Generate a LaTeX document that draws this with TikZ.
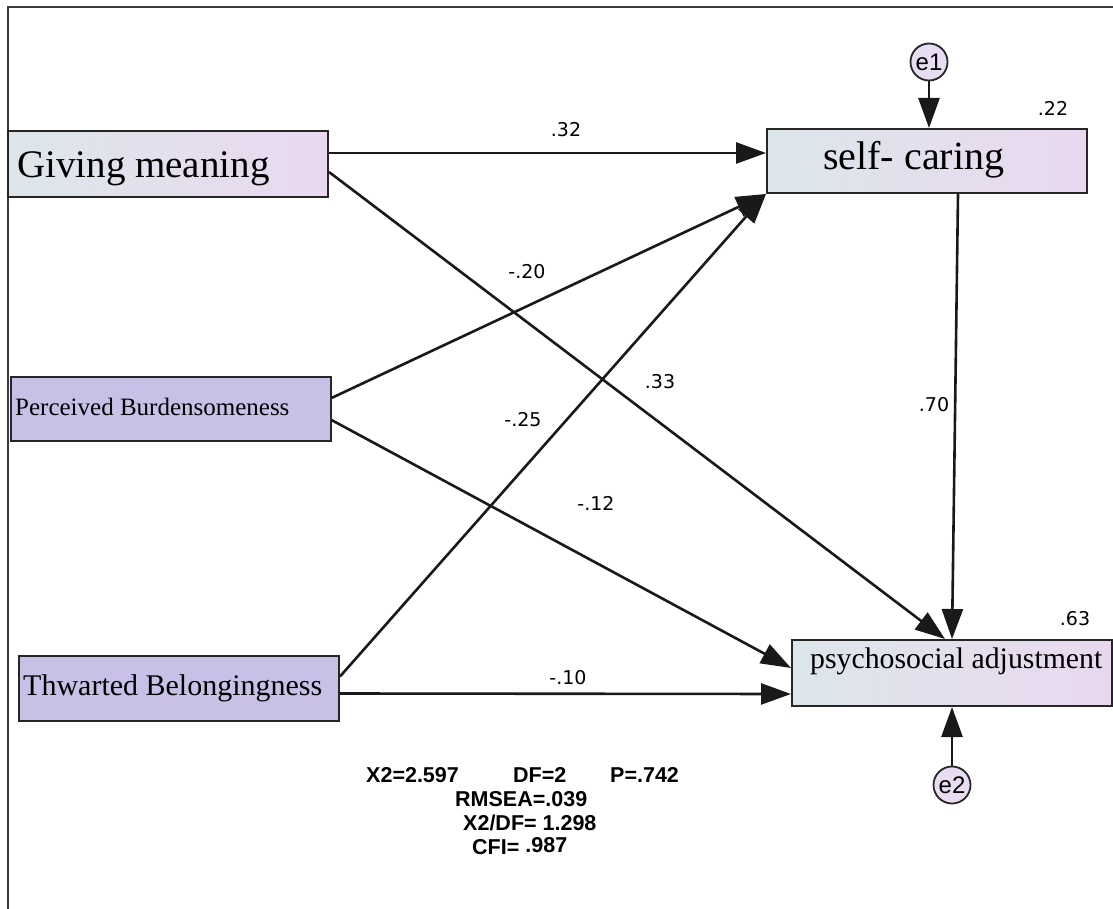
\documentclass[tikz,border=0pt]{standalone}
\usepackage{fontspec}
\setmainfont{Liberation Serif}
\setsansfont{Liberation Sans}
\newfontfamily\lblfam{DejaVu Sans}
\usetikzlibrary{arrows.meta}
\definecolor{boxl}{RGB}{220,230,234}
\definecolor{boxr}{RGB}{234,216,240}
\definecolor{boxp}{RGB}{200,192,230}
\definecolor{errf}{RGB}{232,220,242}
\definecolor{framec}{RGB}{60,60,60}
\tikzset{
  boxg/.style={rectangle, draw=black!85, line width=2pt, left color=boxl, right color=boxr, minimum width=320pt, inner sep=0pt},
  boxv/.style={rectangle, draw=black!85, line width=2pt, fill=boxp, minimum width=320pt, inner sep=0pt},
  errc/.style={circle, draw=black!85, line width=1.8pt, fill=errf, minimum size=37pt, inner sep=0pt, font=\sffamily\fontsize{24}{24}\selectfont},
  conn/.style={line width=2.6pt, draw=black!90, -{Triangle[length=30pt,width=21pt]}},
  coef/.style={font=\lblfam\fontsize{19}{19}\selectfont, inner sep=0pt},
  boxtext/.style={anchor=base west, inner sep=0pt, font=\rmfamily},
  stat/.style={anchor=base west, inner sep=0pt, font=\sffamily\bfseries\fontsize{21.5}{21.5}\selectfont}
}
\begin{document}
\begin{tikzpicture}[x=1pt,y=-1pt]
\useasboundingbox (0,0) rectangle (1113,909);
\fill[white] (0,0) rectangle (1113,909);
\draw[line width=2pt, framec] (1113,7) -- (8,7) -- (8,909);

% boxes
\node[boxg, minimum height=66pt] (gm) at (168,164) {};
\node[boxtext, font=\rmfamily\fontsize{39}{39}\selectfont] (gmt) at (17,178) {Giving meaning};
\node[boxg, minimum height=64pt] (sc) at (927,161) {};
\node[boxtext, font=\rmfamily\fontsize{40}{40}\selectfont] (sct) at (823,170) {self- caring};
\node[boxv, minimum height=64pt] (pb) at (170.5,409) {};
\node[boxtext, font=\rmfamily\fontsize{25}{25}\selectfont] (pbt) at (15,415) {Perceived Burdensomeness};
\node[boxv, minimum height=65pt] (tb) at (179,688.5) {};
\node[boxtext, font=\rmfamily\fontsize{30}{30}\selectfont] (tbt) at (23,695) {Thwarted Belongingness};
\node[boxg, minimum height=66pt] (pa) at (952,673) {};
\node[boxtext, font=\rmfamily\fontsize{29.8}{29.8}\selectfont] (pat) at (810,668) {psychosocial adjustment};

% error terms
\node[errc] (e1) at (929,62) {e1};
\node[errc] (e2) at (952,785) {e2};

% connectors
\draw[conn] ([yshift=11pt]gm.east) -- ([yshift=8pt]sc.west);
\draw[conn] ([yshift=-8pt]gm.east) -- ([xshift=-7pt]pa.north);
\draw[conn] ([yshift=11pt]pb.east) -- (sc.south west);
\draw[conn] ([yshift=-11pt]pb.east) -- ([yshift=5pt]pa.west);
\draw[conn] ([yshift=12pt]tb.east) -- (sc.south west);
\draw[conn] ([yshift=-5pt]tb.east) -- ([yshift=-21pt]pa.west);
\draw[conn] ([xshift=31pt]sc.south) -- (pa.north);
\draw[conn] (e1.south) -- ([xshift=2pt]sc.north);
\draw[conn] (e2.north) -- (pa.south);

% coefficients
\node[coef] (c1) at (566,130) {.32};
\node[coef] (c2) at (660,382) {.33};
\node[coef] (c3) at (527,272) {-.20};
\node[coef] (c4) at (523,420) {-.25};
\node[coef] (c5) at (596,503) {-.12};
\node[coef] (c6) at (568,678) {-.10};
\node[coef] (c7) at (934,405) {.70};
\node[coef] (c8) at (1053,108) {.22};
\node[coef] (c9) at (1075,619) {.63};

% fit statistics
\node[stat] (s1) at (366,782) {X2=2.597};
\node[stat] (s2) at (513,782) {DF=2};
\node[stat] (s3) at (610,782) {P=.742};
\node[stat] (s4) at (455,806) {RMSEA=.039};
\node[stat] (s5) at (463,830) {X2/DF= 1.298};
\node[stat] (s6) at (472,854) {CFI= \raisebox{2pt}{.987}};
\end{tikzpicture}
\end{document}
